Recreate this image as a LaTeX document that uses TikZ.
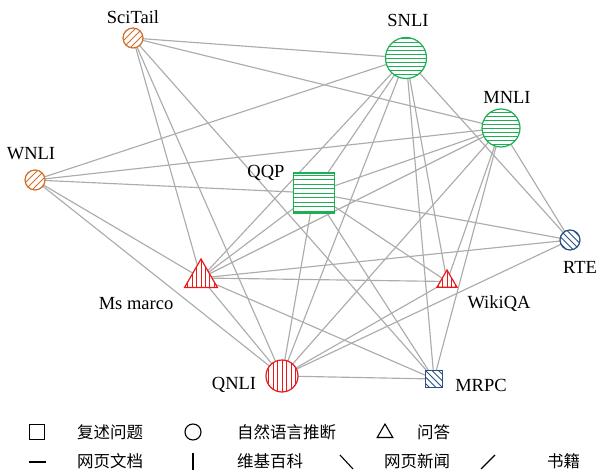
\documentclass[tikz,border=0pt]{standalone}
\usepackage{fontspec}
\setmainfont{Liberation Serif}
\newfontfamily\cjk{Noto Sans CJK SC}
\usetikzlibrary{shapes.geometric,backgrounds}
\definecolor{cOr}{RGB}{208,112,40}
\definecolor{cGr}{RGB}{30,175,85}
\definecolor{cRd}{RGB}{235,25,25}
\definecolor{cBl}{RGB}{40,80,130}
\definecolor{cEd}{RGB}{172,172,172}
\tikzset{
  hh/.style 2 args={path picture={\foreach \k in {-12,...,12}{\draw[#1,line width=0.9pt] ([yshift=\k*#2]path picture bounding box.center) ++(-40pt,0pt) -- ++(80pt,0pt);}}},
  vv/.style 2 args={path picture={\foreach \k in {-12,...,12}{\draw[#1,line width=0.9pt] ([xshift=\k*#2]path picture bounding box.center) ++(0pt,-40pt) -- ++(0pt,80pt);}}},
  sl/.style 2 args={path picture={\foreach \k in {-12,...,12}{\draw[#1,line width=0.9pt] ([xshift=\k*#2]path picture bounding box.center) ++(-40pt,-40pt) -- ++(80pt,80pt);}}},
  bs/.style 2 args={path picture={\foreach \k in {-12,...,12}{\draw[#1,line width=0.9pt] ([xshift=\k*#2]path picture bounding box.center) ++(-40pt,40pt) -- ++(80pt,-80pt);}}},
  dcirc/.style={circle, draw=#1, fill=white, line width=1.2pt, inner sep=0pt},
  dsq/.style={rectangle, draw=#1, fill=white, line width=1.2pt, inner sep=0pt},
  dtri/.style={regular polygon, regular polygon sides=3, draw=#1, fill=white, line width=1.2pt, inner sep=0pt},
  lab/.style={font=\fontsize{18.5}{20}\selectfont, inner sep=0pt},
  leg/.style={font=\cjk\fontsize{16.5}{18}\selectfont, inner sep=0pt, anchor=west},
  edge/.style={draw=cEd, line width=1.15pt},
  legsym/.style={draw=black, line width=1.1pt},
}
\begin{document}
\begin{tikzpicture}[x=1pt,y=-1pt]
\useasboundingbox (0,0) rectangle (597,476);
% nodes
\node[dcirc=cOr, minimum size=20pt, sl={cOr}{7pt}] (scitail) at (133,38) {};
\node[dcirc=cOr, minimum size=20pt, sl={cOr}{7pt}] (wnli) at (35,180) {};
\node[dcirc=cGr, minimum size=41pt, hh={cGr}{4pt}] (snli) at (406,58) {};
\node[dcirc=cGr, minimum size=38pt, hh={cGr}{4pt}] (mnli) at (501,128) {};
\node[dsq=cGr, minimum width=41pt, minimum height=40pt, hh={cGr}{4.5pt}] (qqp) at (314,193) {};
\node[dtri=cRd, minimum size=38pt, vv={cRd}{4.4pt}] (msmarco) at (201,278) {};
\node[dtri=cRd, minimum size=23pt, vv={cRd}{4.4pt}] (wikiqa) at (447,281.5) {};
\node[dcirc=cBl, minimum size=20pt, bs={cBl}{6.5pt}] (rte) at (570,240) {};
\node[dcirc=cRd, minimum size=32pt, vv={cRd}{4.5pt}] (qnli) at (282,376) {};
\node[dsq=cBl, minimum size=17pt, bs={cBl}{6.5pt}] (mrpc) at (434,379) {};
% labels
\node[lab] (lscitail) at (133,17) {SciTail};
\node[lab] (lsnli) at (408,20) {SNLI};
\node[lab] (lmnli) at (507,97) {MNLI};
\node[lab] (lwnli) at (31,154) {WNLI};
\node[lab] (lqqp) at (266,173) {QQP};
\node[lab] (lmsmarco) at (136,304) {Ms marco};
\node[lab] (lwikiqa) at (499,304) {WikiQA};
\node[lab] (lrte) at (580,267) {RTE};
\node[lab] (lqnli) at (234,385) {QNLI};
\node[lab] (lmrpc) at (481,385) {MRPC};
% edges
\begin{scope}[on background layer]
\foreach \a/\b in {scitail/snli, scitail/mnli, scitail/mrpc, scitail/msmarco, scitail/qnli,
  wnli/snli, wnli/mnli, wnli/qqp, wnli/msmarco, wnli/qnli,
  snli/qqp, snli/msmarco, snli/qnli, snli/wikiqa, snli/mrpc, snli/rte,
  mnli/qqp, mnli/msmarco, mnli/qnli, mnli/wikiqa, mnli/mrpc, mnli/rte,
  qqp/msmarco, qqp/rte, qqp/qnli, qqp/mrpc, qqp/wikiqa,
  msmarco/rte, msmarco/wikiqa, msmarco/mrpc, msmarco/qnli,
  qnli/rte, qnli/mrpc, qnli/wikiqa}
  \draw[edge] (\a.center) -- (\b.center);
\end{scope}
% legend
\node[legsym, rectangle, minimum size=15pt, inner sep=0pt] (s1) at (37,432) {};
\node[leg] (t1) at (77,432) {复述问题};
\node[legsym, circle, minimum size=16pt, inner sep=0pt] (s2) at (193,432) {};
\node[leg] (t2) at (237,432) {自然语言推断};
\node[legsym, regular polygon, regular polygon sides=3, minimum size=18pt, inner sep=0pt] (s3) at (385,433) {};
\node[leg] (t3) at (417,432) {问答};
\coordinate (a1) at (29,462); \coordinate (a2) at (46,462);
\draw[legsym] (a1) -- (a2);
\node[leg] (t4) at (77,461) {网页文档};
\coordinate (b1) at (193,453); \coordinate (b2) at (193,470);
\draw[legsym] (b1) -- (b2);
\node[leg] (t5) at (237,461) {维基百科};
\coordinate (c1) at (340,455); \coordinate (c2) at (353,469);
\draw[legsym] (c1) -- (c2);
\node[leg] (t6) at (384,461) {网页新闻};
\coordinate (d1) at (481,469); \coordinate (d2) at (495,455);
\draw[legsym] (d1) -- (d2);
\node[leg] (t7) at (547,461) {书籍};
\end{tikzpicture}
\end{document}
